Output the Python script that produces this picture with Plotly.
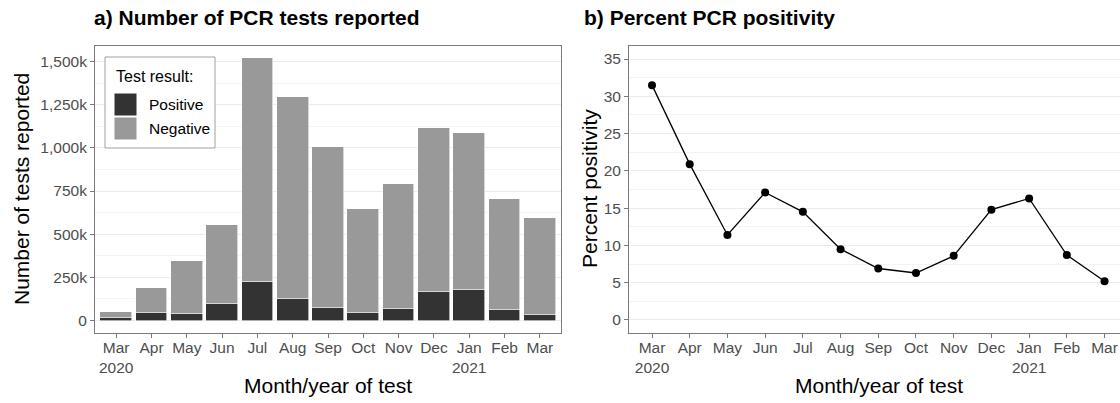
import plotly.graph_objects as go

# ---------------- data ----------------
months = ["Mar 2020", "Apr 2020", "May 2020", "Jun 2020", "Jul 2020", "Aug 2020",
          "Sep 2020", "Oct 2020", "Nov 2020", "Dec 2020", "Jan 2021", "Feb 2021", "Mar 2021"]
tick_labels = ["Mar<br>2020", "Apr", "May", "Jun", "Jul", "Aug", "Sep", "Oct",
               "Nov", "Dec", "Jan<br>2021", "Feb", "Mar"]
positive_k = [16, 41, 40, 95, 222, 126, 70, 41, 67, 166, 178, 62, 31]
negative_k = [34, 148, 303, 456, 1301, 1171, 936, 603, 721, 950, 907, 644, 564]
percent_positive = [31.5, 20.9, 11.4, 17.1, 14.5, 9.5, 6.9, 6.3, 8.6, 14.8, 16.3, 8.7, 5.2]
y1_ticks = [0, 250, 500, 750, 1000, 1250, 1500]
y1_ticktext = ["0", "250k", "500k", "750k", "1,000k", "1,250k", "1,500k"]
y2_ticks = [0, 5, 10, 15, 20, 25, 30, 35]

W, H = 1120, 403
FONT = "Liberation Sans, Arial, Helvetica, sans-serif"
TICK_COL = "#4D4D4D"
GRID = "#EBEBEB"
BORDER = "#7A7A7A"
POS_COL = "#333333"
NEG_COL = "#999999"
TICK_SIZE = 15.5
TITLE_SIZE = 21

def px(x):
    return x / W

def py(y):
    return 1 - y / H

xidx = list(range(len(months)))

fig = go.Figure()
fig.add_trace(go.Bar(x=xidx, y=positive_k, name="Positive", marker=dict(color=POS_COL, line=dict(color="white", width=0.6)),
                     width=0.9, xaxis="x", yaxis="y", showlegend=False, hovertext=months))
fig.add_trace(go.Bar(x=xidx, y=negative_k, name="Negative", marker=dict(color=NEG_COL, line=dict(color="white", width=0.6)),
                     width=0.9, xaxis="x", yaxis="y", showlegend=False, hovertext=months))
fig.add_trace(go.Scatter(x=xidx, y=percent_positive, mode="lines+markers",
                         line=dict(color="black", width=1.3),
                         marker=dict(color="black", size=8),
                         xaxis="x2", yaxis="y2", showlegend=False, hovertext=months))

axis_common = dict(
    showgrid=False, zeroline=False,
    ticks="outside", ticklen=4, tickcolor=BORDER, tickwidth=1,
    tickfont=dict(family=FONT, size=TICK_SIZE, color=TICK_COL),
    showline=True, linecolor=BORDER, linewidth=1,
)
xcommon = {**axis_common, "ticklabelstandoff": -4}
ygrid = {**axis_common, "showgrid": True, "gridcolor": GRID, "gridwidth": 1}

ydom = [py(333), py(46)]

fig.update_layout(
    width=W, height=H,
    margin=dict(l=0, r=0, t=0, b=0),
    paper_bgcolor="white", plot_bgcolor="white",
    barmode="stack", bargap=0,
    font=dict(family=FONT, color="black"),
    xaxis=dict(domain=[px(95), px(561)], range=[-0.6, 12.6], tickmode="array",
               tickvals=xidx, ticktext=tick_labels, mirror=True, anchor="y", **xcommon),
    yaxis=dict(domain=ydom, range=[-72, 1590], tickmode="array",
               tickvals=y1_ticks, ticktext=y1_ticktext, mirror=True, anchor="x",
               minor=dict(tickvals=[125, 375, 625, 875, 1125, 1375], showgrid=True, gridcolor="#F3F3F3", gridwidth=1, ticks=""),
               **ygrid),
    xaxis2=dict(domain=[px(629), 1.0], range=[-0.61, 12.41], tickmode="array",
                tickvals=xidx, ticktext=tick_labels, mirror=True, anchor="y2", **xcommon),
    yaxis2=dict(domain=ydom, range=[-1.75, 36.75], tickmode="array",
                tickvals=y2_ticks, anchor="x2", mirror=False,
                minor=dict(tickvals=[2.5, 7.5, 12.5, 17.5, 22.5, 27.5, 32.5], showgrid=True, gridcolor="#F3F3F3", gridwidth=1, ticks=""),
                **ygrid),
)

def ann(text, x, y, size, rot=0, xanchor="center", bold=False):
    fig.add_annotation(text=f"<b>{text}</b>" if bold else text, x=px(x), y=py(y), xref="paper", yref="paper",
                       xanchor=xanchor, yanchor="middle", showarrow=False, textangle=rot,
                       font=dict(size=size, family=FONT, color="black"))

# panel titles
ann("a) Number of PCR tests reported", 92, 18, 21, xanchor="left", bold=True)
ann("b) Percent PCR positivity", 582, 18, 21, xanchor="left", bold=True)

# axis titles
ann("Number of tests reported", 21, 189, TITLE_SIZE, rot=-90)
ann("Month/year of test", 328, 385, TITLE_SIZE)
ann("Percent positivity", 589, 189, TITLE_SIZE, rot=-90)
ann("Month/year of test", 879, 385, TITLE_SIZE)

# manual legend (ggplot-style) for panel a
fig.add_shape(type="rect", xref="paper", yref="paper", x0=px(105), x1=px(215), y0=py(148), y1=py(57),
              line=dict(color="#A0A0A0", width=1), fillcolor="white", layer="above")
ann("Test result:", 114, 76, 16, xanchor="left")
for i, (lab, col) in enumerate([("Positive", POS_COL), ("Negative", NEG_COL)]):
    y0 = 93 + i * 24
    fig.add_shape(type="rect", xref="paper", yref="paper", x0=px(114), x1=px(137), y0=py(y0 + 23), y1=py(y0),
                  line=dict(color="white", width=1), fillcolor=col, layer="above")
    ann(lab, 147, y0 + 11.5, 15.5, xanchor="left")

fig.write_html("out.html", config={"displayModeBar": False},
               post_script="document.body.style.margin='0px';document.body.style.overflow='hidden';")
